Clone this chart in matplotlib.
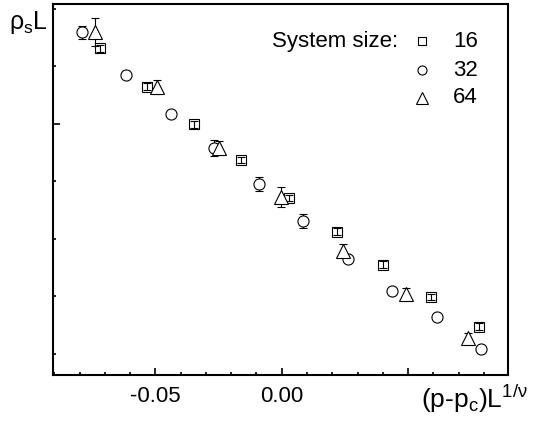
import matplotlib
matplotlib.use('Agg')
import matplotlib.pyplot as plt
from matplotlib.ticker import MultipleLocator, FixedLocator, FixedFormatter

plt.rcParams['font.family'] = ['Liberation Sans', 'DejaVu Sans']
plt.rcParams['mathtext.fontset'] = 'custom'
plt.rcParams['mathtext.rm'] = 'Liberation Sans'
plt.rcParams['mathtext.it'] = 'Liberation Sans'
plt.rcParams['mathtext.sf'] = 'Liberation Sans'

# DADOS (eixo y em unidades arbitrarias)
x_16 = [-0.0719, -0.0534, -0.0348, -0.0162, 0.0028, 0.0217, 0.0399, 0.0589, 0.0779]
y_16 = [5.31, 4.64, 3.99, 3.37, 2.71, 2.12, 1.55, 0.99, 0.47]
e_16 = [0.06, 0.06, 0.06, 0.06, 0.06, 0.06, 0.06, 0.06, 0.06]

x_32 = [-0.0791, -0.0617, -0.0439, -0.0269, -0.0091, 0.0083, 0.0261, 0.0435, 0.0613, 0.0787]
y_32 = [5.59, 4.84, 4.17, 3.58, 2.95, 2.31, 1.65, 1.09, 0.64, 0.09]
e_32 = [0.11, 0.05, 0.05, 0.14, 0.12, 0.12, 0.06, 0.05, 0.06, 0.06]

x_64 = [-0.0739, -0.0494, -0.0249, -0.0004, 0.0241, 0.0490, 0.0735]
y_64 = [5.59, 4.64, 3.58, 2.73, 1.79, 1.04, 0.28]
e_64 = [0.24, 0.12, 0.12, 0.17, 0.12, 0.10, 0.08]

tamanhos = ['16', '32', '64']

fig = plt.figure(figsize=(5.33, 4.24), dpi=100)
ax = fig.add_axes([53/533, 49/424, 455/533, 371/424])

estilo = dict(ls='none', mec='black', ecolor='black', elinewidth=0.8,
              capsize=3, capthick=0.8, mew=0.8)
ax.errorbar(x_16, y_16, yerr=e_16, fmt='s', ms=7, mfc='none', **estilo)
ax.errorbar(x_32, y_32, yerr=e_32, fmt='o', ms=8, mfc='white', **estilo)
ax.errorbar(x_64, y_64, yerr=e_64, fmt='^', ms=10, mfc='white', **estilo)

ax.set_xlim(-0.0905, 0.0895)
ax.set_ylim(-0.365, 6.08)

ax.xaxis.set_major_locator(FixedLocator([-0.05, 0.0, 0.05]))
ax.xaxis.set_major_formatter(FixedFormatter(['-0.05', '0.00', '']))
ax.xaxis.set_minor_locator(MultipleLocator(0.01))
ax.yaxis.set_major_locator(FixedLocator([4]))
ax.yaxis.set_minor_locator(FixedLocator([0, 1, 2, 3, 5, 6]))
ax.set_yticklabels([])

ax.tick_params(which='both', direction='in', width=1.2, top=False, right=False)
ax.tick_params(which='major', length=5)
ax.tick_params(which='minor', length=2.5)
ax.tick_params(axis='x', labelsize=16, pad=8)
for s in ax.spines.values():
    s.set_linewidth(1.5)

# legenda feita a mao
ax.text(0.481, 0.900, 'System size:', transform=ax.transAxes, fontsize=16,
        ha='left', va='center')
marcadores = [('s', 6), ('o', 6.5), ('^', 8)]
linhas_y = [0.900, 0.822, 0.747]
for (m, tam), yy, rot in zip(marcadores, linhas_y, tamanhos):
    ax.plot([0.811], [yy], marker=m, ms=tam, mfc='white', mec='black', mew=0.8,
            ls='none', transform=ax.transAxes)
    ax.text(0.879, yy, rot, transform=ax.transAxes, fontsize=16,
            ha='left', va='center')

fig.text(9/533, 1 - 29/424, r'$\rho_{s}$L', fontsize=18, ha='left', va='baseline')
fig.text(421/533, 1 - 408/424, r'(p-p$_{c}$)L$^{1/\nu}$', fontsize=19,
         ha='left', va='baseline')

fig.savefig('out.png', dpi=100)
